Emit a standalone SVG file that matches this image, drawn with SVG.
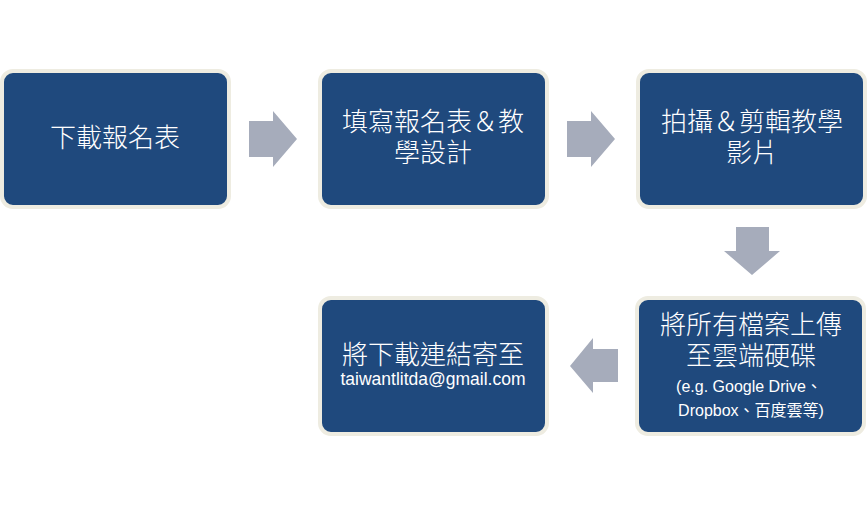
<svg xmlns="http://www.w3.org/2000/svg" width="867" height="505" viewBox="0 0 867 505">
<style>
.box{fill:#1F497D;stroke:#EEECE1;stroke-width:4}
.zh{font-family:"Noto Sans CJK TC","Noto Sans CJK SC",sans-serif;font-size:26px;font-weight:300;fill:#FFFFFF;text-anchor:middle}
.en{font-family:"Liberation Sans","Noto Sans CJK TC",sans-serif;font-size:16px;fill:#FFFFFF;text-anchor:middle}
.arr{fill:#A6ACBB}
</style>
<rect width="867" height="505" fill="#FFFFFF"/>
<g id="connectors">
<polygon class="arr" points="249,121 273,121 273,111 297,139 273,167 273,157 249,157"/>
<polygon class="arr" points="567,121 591,121 591,111 615,139 591,167 591,157 567,157"/>
<polygon class="arr" points="736,227 769,227 769,251 780,251 752,275 724,251 736,251"/>
<polygon class="arr" points="618,349 593,349 593,338 570,366 593,393 593,382 618,382"/>
</g>
<g id="node1">
<rect class="box" x="2" y="71" width="227" height="136" rx="11"/>
<text class="zh" x="115" y="147">下載報名表</text>
</g>
<g id="node2">
<rect class="box" x="320" y="71" width="227" height="136" rx="11"/>
<text class="zh" x="433" y="131">填寫報名表＆教</text>
<text class="zh" x="433" y="162">學設計</text>
</g>
<g id="node3">
<rect class="box" x="638" y="71" width="227" height="136" rx="11"/>
<text class="zh" x="752" y="131">拍攝＆剪輯教學</text>
<text class="zh" x="752" y="162">影片</text>
</g>
<g id="node4">
<rect class="box" x="637" y="298" width="227" height="136" rx="11"/>
<text class="zh" x="751" y="334">將所有檔案上傳</text>
<text class="zh" x="751" y="365">至雲端硬碟</text>
<text class="en" x="749" y="392">(e.g. Google Drive、</text>
<text class="en" x="751" y="416">Dropbox、百度雲等)</text>
</g>
<g id="node5">
<rect class="box" x="320" y="298" width="227" height="136" rx="11"/>
<text class="zh" x="433" y="364">將下載連結寄至</text>
<text class="en" x="433" y="385" style="font-size:17.5px">taiwantlitda@gmail.com</text>
</g>
</svg>
